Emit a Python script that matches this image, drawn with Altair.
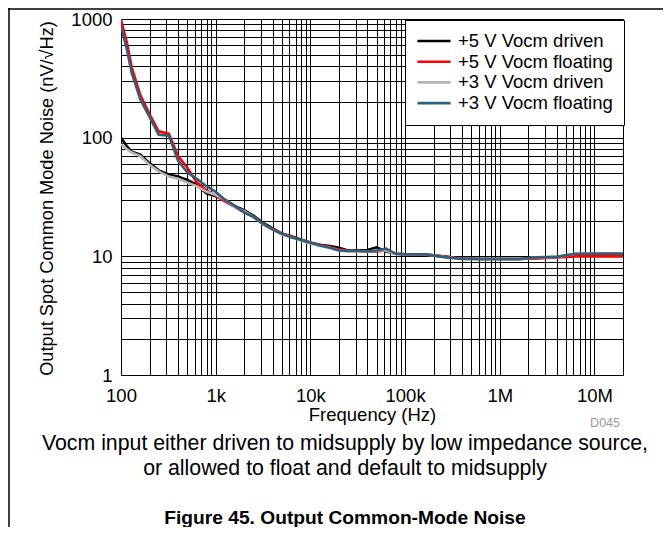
import altair as alt
import pandas as pd

freq = [100, 115, 130, 160, 200, 250, 320, 400, 500, 630, 800, 1000, 1250, 1600,
        2000, 2500, 3200, 4000, 5000, 6300, 8000, 10000, 12500, 16000, 20000, 25000,
        32000, 40000, 50000, 63000, 80000, 100000, 160000, 250000, 400000, 630000,
        1e6, 1.6e6, 2.5e6, 4e6, 6.3e6, 1e7, 2e7]

v5_driven = [100, 85, 76, 72, 61, 53, 49, 47, 44, 40, 34, 32, 30, 26.5, 24.5, 22, 19,
             17.2, 15.5, 14.8, 13.8, 13.0, 12.5, 12.2, 11.8, 11.2, 11.2, 11.3, 11.9,
             11.0, 10.5, 10.4, 10.4, 10.0, 9.6, 9.5, 9.5, 9.5, 9.7, 9.9, 10.4, 10.5, 10.5]
v5_float = [980, 640, 390, 228, 158, 113, 108, 70, 56, 42, 36, 32.5, 29, 26, 23.5, 21.5,
            18.5, 17, 15.6, 14.7, 13.7, 13.1, 12.5, 12, 11.4, 11.2, 11.1, 11.0, 11.0,
            11.2, 10.5, 10.4, 10.3, 10.0, 9.6, 9.5, 9.5, 9.5, 9.6, 9.8, 10.0, 10.0, 10.0]
v3_driven = [88, 80, 75, 70, 59, 52, 47, 45, 42, 39, 35, 33, 30, 26, 24, 21.5, 18.5,
             16.8, 15.3, 14.5, 13.5, 12.8, 12.2, 11.8, 11.2, 11.0, 11.0, 11.0, 11.2,
             11.2, 10.4, 10.4, 10.4, 9.9, 9.5, 9.5, 9.5, 9.5, 9.8, 9.9, 10.5, 10.5, 10.5]
v3_float = [870, 560, 350, 210, 150, 106, 104, 64, 51, 45, 39, 35, 30, 26.5, 23.5, 21.5,
            18.7, 16.8, 15.5, 14.5, 13.7, 13, 12.4, 11.8, 11.2, 11.1, 11.1, 11.0, 11.2,
            11.6, 10.5, 10.4, 10.4, 9.9, 9.5, 9.5, 9.5, 9.5, 9.8, 9.9, 10.5, 10.5, 10.5]

series_names = ["+5 V Vocm driven", "+5 V Vocm floating", "+3 V Vocm driven", "+3 V Vocm floating"]
series_values = [v5_driven, v5_float, v3_driven, v3_float]
series_colors = ["#000000", "#ff0000", "#b4b4b4", "#2f5f7a"]

x_grid = [m * 10 ** e for e in range(2, 7) for m in range(1, 10)] + [1e7, 2e7]
y_grid = [m * 10 ** e for e in range(0, 3) for m in range(1, 10)] + [1000]

caption1 = "Vocm input either driven to midsupply by low impedance source,"
caption2 = "or allowed to float and default to midsupply"
fig_title = "Figure 45. Output Common-Mode Noise"
code_label = "D045"

rows = []
for name, vals in zip(series_names, series_values):
    for f, v in zip(freq, vals):
        rows.append({"freq": f, "noise": v, "series": name})
df = pd.DataFrame(rows)

FONT = "Liberation Sans"
FS = 18.5
W, H = 502, 356

x_label_expr = ("datum.value == 100 ? '100' : datum.value == 1000 ? '1k' : "
                "datum.value == 10000 ? '10k' : datum.value == 100000 ? '100k' : "
                "datum.value == 1000000 ? '1M' : datum.value == 10000000 ? '10M' : ''")
y_label_expr = ("datum.value == 1 ? '1' : datum.value == 10 ? '10' : "
                "datum.value == 100 ? '100' : datum.value == 1000 ? '1000' : ''")

lines = alt.Chart(df).mark_line(strokeWidth=2.6, clip=True).encode(
    x=alt.X("freq:Q",
            scale=alt.Scale(type="log", domain=[100, 2e7], nice=False),
            axis=alt.Axis(values=x_grid, labelExpr=x_label_expr, labelOverlap=False,
                          grid=True, gridColor="#000000", gridWidth=1, gridOpacity=1,
                          domain=False, ticks=False, tickSize=0,
                          labelFont=FONT, labelFontSize=FS, labelColor="#000000",
                          labelPadding=11, labelFlush=False,
                          title="Frequency (Hz)", titleFont=FONT, titleFontSize=FS,
                          titleFontWeight="normal", titleColor="#000000",
                          titleY=39, titleBaseline="middle")),
    y=alt.Y("noise:Q",
            scale=alt.Scale(type="log", domain=[1, 1000], nice=False),
            axis=alt.Axis(values=y_grid, labelExpr=y_label_expr, labelOverlap=False,
                          grid=True, gridColor="#000000", gridWidth=1, gridOpacity=1,
                          domain=False, ticks=False, tickSize=0,
                          labelFont=FONT, labelFontSize=FS, labelColor="#000000",
                          labelPadding=9, labelFlush=False,
                          title="Output Spot Common Mode Noise (nV/\u221aHz)",
                          titleFont=FONT, titleFontSize=18.2, titleFontWeight="normal",
                          titleColor="#000000", titleAngle=270,
                          titleX=-74, titleY=H / 2 + 1, titleAlign="center",
                          titleBaseline="middle")),
    color=alt.Color("series:N",
                    scale=alt.Scale(domain=series_names, range=series_colors),
                    sort=series_names,
                    legend=alt.Legend(title=None, orient="none", legendX=284, legendY=1,
                                      symbolType="stroke", symbolSize=1100,
                                      symbolStrokeWidth=2.6, labelFont=FONT,
                                      labelFontSize=FS, labelColor="#000000",
                                      labelOffset=6, rowPadding=0.7, padding=11,
                                      clipHeight=20,
                                      fillColor="#ffffff", strokeColor="#000000",
                                      cornerRadius=0)),
)

def text_layer(txt, x, y, size, align="center", weight="normal", color="#000000"):
    return alt.Chart(pd.DataFrame({"t": [txt]})).mark_text(
        font=FONT, fontSize=size, fontWeight=weight, color=color, align=align,
        baseline="middle", clip=False
    ).encode(text="t:N", x=alt.value(x), y=alt.value(y))

annotations = [
    text_layer(code_label, 499, 404, 12.5, align="right", color="#9a9a9a"),
    text_layer(caption1, 224, 425, 21.3),
    text_layer(caption2, 224, 450, 21.3),
    text_layer(fig_title, 224, 499, 19.2, weight="bold"),
]

frame_top = alt.Chart(pd.DataFrame({"a": [0]})).mark_rule(
    color="#000000", strokeWidth=1.5, clip=False
).encode(x=alt.value(-113), x2=alt.value(542), y=alt.value(-10))
frame_left = alt.Chart(pd.DataFrame({"a": [0]})).mark_rule(
    color="#000000", strokeWidth=1.5, clip=False
).encode(x=alt.value(-112), y=alt.value(-11), y2=alt.value(508))

chart = alt.layer(lines, *annotations, frame_top, frame_left).properties(
    width=W, height=H,
    padding={"left": 113, "top": 11, "right": 40, "bottom": 152},
    autosize=alt.AutoSizeParams(type="none"),
).configure_view(stroke="#000000", strokeWidth=3).configure_legend(
    strokeWidth=2
).configure(
    background="#ffffff"
)

chart.save("out.html", embed_options={"renderer": "svg", "actions": False})
